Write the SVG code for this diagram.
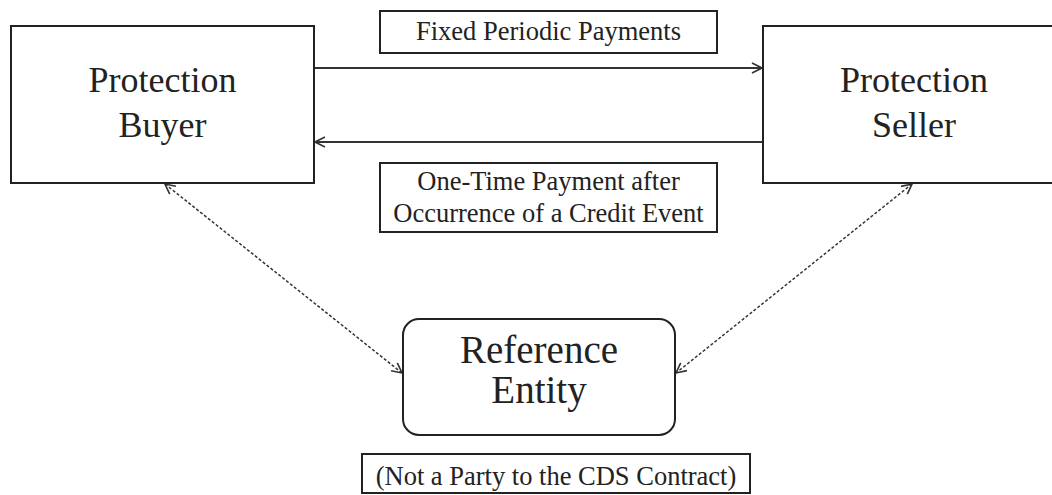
<svg xmlns="http://www.w3.org/2000/svg" width="1052" height="495" viewBox="0 0 1052 495">
<style>
.box{fill:#fff;stroke:#222;stroke-width:2}
.big{font-family:"Liberation Serif","Times New Roman",serif;font-size:36px;fill:#222;text-anchor:middle}
.ref{font-family:"Liberation Serif","Times New Roman",serif;font-size:39px;fill:#222;text-anchor:middle}
.lbl{font-family:"Liberation Serif","Times New Roman",serif;font-size:26.5px;fill:#222;text-anchor:middle}
.solid{stroke:#333;stroke-width:2;fill:none}
.dash{stroke:#333;stroke-width:1.5;fill:none;stroke-dasharray:3 2}
</style>
<defs>
<marker id="arr" viewBox="0 0 12 12" refX="11" refY="6" markerWidth="12" markerHeight="12" markerUnits="userSpaceOnUse" orient="auto-start-reverse">
<path d="M1,1 L11,6 L1,11" fill="none" stroke="#333" stroke-width="1.6"/>
</marker>
</defs>
<rect width="1052" height="495" fill="#fff"/>
<g id="connectors">
<line class="solid" x1="314" y1="68" x2="762" y2="68" marker-end="url(#arr)"/>
<line class="solid" x1="763" y1="142" x2="315" y2="142" marker-end="url(#arr)"/>
<line class="dash" x1="165" y1="184" x2="402" y2="373" marker-start="url(#arr)" marker-end="url(#arr)"/>
<line class="dash" x1="912" y1="184" x2="676" y2="373" marker-start="url(#arr)" marker-end="url(#arr)"/>
</g>
<g id="buyer">
<rect class="box" x="11" y="26" width="303" height="157"/>
<text class="big" x="162.5" y="92">Protection</text>
<text class="big" x="162.5" y="137">Buyer</text>
</g>
<g id="seller">
<rect class="box" x="763" y="26" width="302" height="157"/>
<text class="big" x="914" y="92">Protection</text>
<text class="big" x="914" y="137">Seller</text>
</g>
<g id="fixed-label">
<rect class="box" x="380" y="11" width="337" height="42"/>
<text class="lbl" x="548.5" y="40">Fixed Periodic Payments</text>
</g>
<g id="onetime-label">
<rect class="box" x="380" y="163" width="337" height="69"/>
<text class="lbl" x="548.5" y="190">One-Time Payment after</text>
<text class="lbl" x="548.5" y="222">Occurrence of a Credit Event</text>
</g>
<g id="reference">
<rect class="box" x="403" y="319" width="272" height="116" rx="16" ry="16"/>
<text class="ref" x="539" y="363">Reference</text>
<text class="ref" x="539" y="403">Entity</text>
</g>
<g id="note-label">
<rect class="box" x="362" y="454" width="388" height="39"/>
<text class="lbl" x="556" y="485">(Not a Party to the CDS Contract)</text>
</g>
</svg>
